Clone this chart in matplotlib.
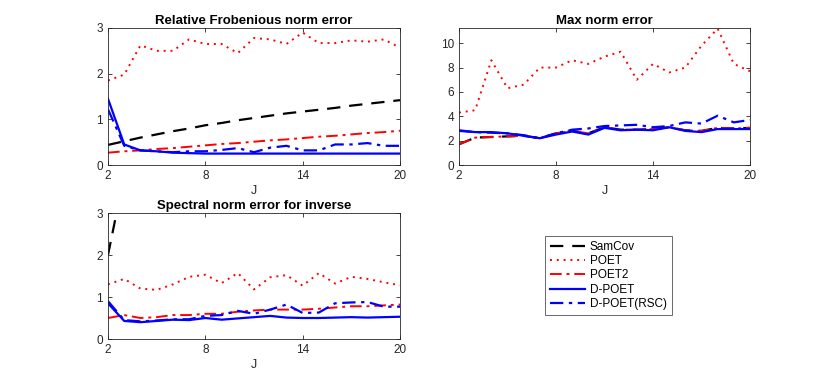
import matplotlib
matplotlib.use("Agg")
import matplotlib.pyplot as plt

J = list(range(2, 21))

# Panel 1: Relative Frobenious norm error
fro_samcov = [0.44, 0.52, 0.60, 0.67, 0.74, 0.80, 0.87, 0.92, 0.98, 1.03, 1.08, 1.13, 1.17, 1.21, 1.25, 1.30, 1.34, 1.38, 1.42]
fro_poet = [1.85, 1.98, 2.62, 2.50, 2.50, 2.75, 2.65, 2.65, 2.45, 2.78, 2.75, 2.65, 2.90, 2.67, 2.67, 2.73, 2.70, 2.75, 2.57]
fro_poet2 = [0.27, 0.30, 0.32, 0.35, 0.37, 0.40, 0.43, 0.46, 0.48, 0.51, 0.54, 0.56, 0.59, 0.62, 0.64, 0.67, 0.70, 0.72, 0.75]
fro_dpoet = [1.45, 0.45, 0.32, 0.30, 0.27, 0.26, 0.25, 0.25, 0.25, 0.25, 0.25, 0.25, 0.25, 0.25, 0.25, 0.25, 0.25, 0.25, 0.25]
fro_rsc = [1.22, 0.42, 0.32, 0.30, 0.28, 0.30, 0.30, 0.33, 0.37, 0.28, 0.38, 0.42, 0.32, 0.32, 0.45, 0.45, 0.48, 0.42, 0.42]

# Panel 2: Max norm error
max_samcov = [1.70, 2.25, 2.30, 2.35, 2.40, 2.20, 2.60, 2.80, 2.60, 3.10, 2.90, 2.90, 2.95, 3.10, 2.85, 2.80, 3.05, 3.00, 3.05]
max_poet = [4.30, 4.50, 8.60, 6.30, 6.60, 8.00, 8.00, 8.60, 8.30, 8.90, 9.30, 7.00, 8.30, 7.60, 8.00, 9.80, 11.20, 8.30, 7.70]
max_poet2 = [1.70, 2.25, 2.30, 2.35, 2.40, 2.20, 2.60, 2.80, 2.60, 3.10, 2.90, 2.90, 2.95, 3.10, 2.85, 2.80, 3.05, 3.00, 3.05]
max_dpoet = [2.85, 2.70, 2.70, 2.60, 2.40, 2.20, 2.50, 2.75, 2.50, 3.05, 2.85, 2.90, 2.85, 3.10, 2.80, 2.70, 2.95, 2.95, 2.95]
max_rsc = [2.80, 2.70, 2.65, 2.60, 2.45, 2.20, 2.60, 2.90, 3.00, 3.20, 3.25, 3.30, 3.10, 3.20, 3.50, 3.40, 4.05, 3.50, 3.70]

# Panel 3: Spectral norm error for inverse
inv_samcov = [2.00, 3.90, 5.20, 6.40, 7.50, 8.60, 9.60, 10.5, 11.4, 12.3, 13.1, 13.9, 14.7, 15.4, 16.1, 16.8, 17.5, 18.1, 18.7]
inv_poet = [1.30, 1.43, 1.20, 1.17, 1.30, 1.48, 1.53, 1.33, 1.57, 1.18, 1.47, 1.52, 1.27, 1.57, 1.32, 1.48, 1.43, 1.35, 1.28]
inv_poet2 = [0.50, 0.57, 0.50, 0.52, 0.57, 0.57, 0.60, 0.60, 0.65, 0.68, 0.70, 0.70, 0.70, 0.72, 0.75, 0.78, 0.78, 0.80, 0.82]
inv_dpoet = [0.85, 0.43, 0.40, 0.43, 0.46, 0.45, 0.50, 0.46, 0.49, 0.52, 0.55, 0.51, 0.50, 0.50, 0.51, 0.52, 0.51, 0.52, 0.53]
inv_rsc = [0.90, 0.45, 0.42, 0.44, 0.47, 0.47, 0.55, 0.57, 0.67, 0.60, 0.70, 0.82, 0.62, 0.63, 0.85, 0.87, 0.88, 0.77, 0.77]

labels = ["SamCov", "POET", "POET2", "D-POET", "D-POET(RSC)"]
xticks = [2, 8, 14, 20]

plt.rcParams['font.family'] = ['Liberation Sans', 'DejaVu Sans']
W, H = 830, 382
fig = plt.figure(figsize=(W / 100, H / 100), dpi=100)

def ax_at(l, t, r, b):
    return fig.add_axes([l / W, 1 - b / H, (r - l) / W, (b - t) / H])

styles = [
    dict(color='black', ls=(0, (6, 4)), lw=1.6),
    dict(color='red', ls=(0, (1, 2.5)), lw=1.4),
    dict(color='red', ls=(0, (6, 2.5, 1.5, 2.5)), lw=1.4),
    dict(color='blue', ls='-', lw=1.6),
    dict(color='blue', ls=(0, (6, 2.5, 1.5, 2.5)), lw=1.6),
]

def draw(ax, series, title, ylim, yticks):
    handles = []
    for s, st, lab in zip(series, styles, labels):
        h, = ax.plot(J, s, label=lab, **st)
        handles.append(h)
    ax.set_xlim(2, 20)
    ax.set_ylim(*ylim)
    ax.set_xticks(xticks)
    ax.set_yticks(yticks)
    ax.tick_params(direction='in', top=True, right=True, length=3, labelsize=8.5,
                   colors='#262626', width=0.6)
    for sp in ax.spines.values():
        sp.set_linewidth(0.6)
        sp.set_color('#262626')
    ax.set_title(title, fontsize=9.5, fontweight='bold', pad=3)
    ax.set_xlabel('J', fontsize=9, color='#262626', labelpad=2)
    return handles

ax1 = ax_at(108, 28, 400, 165)
h = draw(ax1, [fro_samcov, fro_poet, fro_poet2, fro_dpoet, fro_rsc],
         'Relative Frobenious norm error', (0, 3), [0, 1, 2, 3])

ax2 = ax_at(459, 28, 750, 165)
draw(ax2, [max_samcov, max_poet, max_poet2, max_dpoet, max_rsc],
     'Max norm error', (0, 11.25), [0, 2, 4, 6, 8, 10])

ax3 = ax_at(108, 213, 400, 339)
draw(ax3, [inv_samcov, inv_poet, inv_poet2, inv_dpoet, inv_rsc],
     'Spectral norm error for inverse', (0, 3), [0, 1, 2, 3])

leg = fig.legend(handles=h, labels=labels, loc='upper left',
                 bbox_to_anchor=(545 / W, 1 - 236 / H), fontsize=8.5,
                 frameon=True, fancybox=False, handlelength=3.0,
                 borderpad=0.4, labelspacing=0.2, handletextpad=0.4,
                 borderaxespad=0)
leg.get_frame().set_edgecolor('#262626')
leg.get_frame().set_linewidth(0.6)

fig.savefig('out.png', dpi=100)
